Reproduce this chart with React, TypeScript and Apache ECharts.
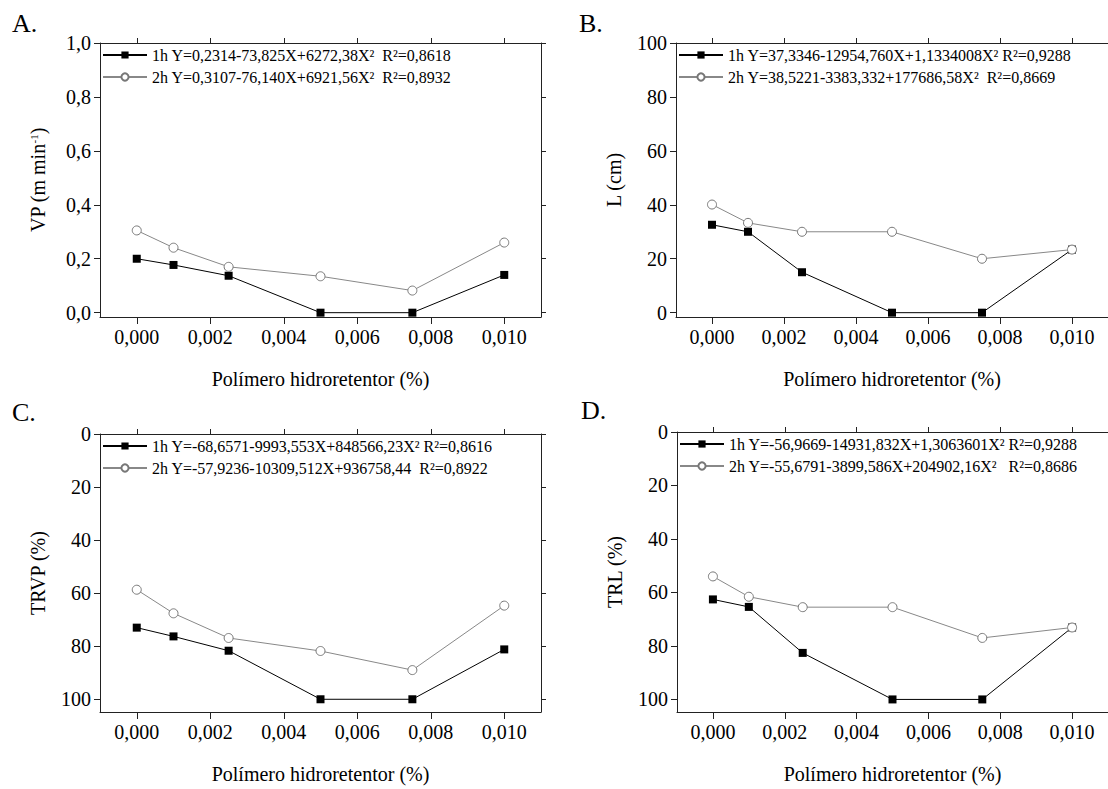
import React, { useEffect, useRef } from "react";
import * as echarts from "echarts";

const FONT = "Liberation Serif";

// x values: polymer concentration (%)
const xValues = [0, 0.001, 0.0025, 0.005, 0.0075, 0.01];
const xTicks = [0, 0.002, 0.004, 0.006, 0.008, 0.01];

// A: VP (m min-1)
const vp1h = [0.2, 0.177, 0.137, 0, 0, 0.14];
const vp2h = [0.305, 0.241, 0.17, 0.135, 0.082, 0.26];
const vpTicks = [0, 0.2, 0.4, 0.6, 0.8, 1.0];

// B: L (cm)
const l1h = [32.6, 30, 15, 0, 0, 23.4];
const l2h = [40.1, 33.3, 30, 30, 20, 23.4];
const lTicks = [0, 20, 40, 60, 80, 100];

// C: TRVP (%)
const trvp1h = [73, 76.3, 81.7, 100, 100, 81.2];
const trvp2h = [58.7, 67.6, 76.9, 81.8, 89, 64.7];

// D: TRL (%)
const trl1h = [62.6, 65.4, 82.6, 100, 100, 73.1];
const trl2h = [54, 61.6, 65.5, 65.5, 77, 73.1];
const trTicks = [0, 20, 40, 60, 80, 100];

const legendA = [
  "1h Y=0,2314-73,825X+6272,38X²  R²=0,8618",
  "2h Y=0,3107-76,140X+6921,56X²  R²=0,8932",
];
const legendB = [
  "1h Y=37,3346-12954,760X+1,1334008X² R²=0,9288",
  "2h Y=38,5221-3383,332+177686,58X²  R²=0,8669",
];
const legendC = [
  "1h Y=-68,6571-9993,553X+848566,23X² R²=0,8616",
  "2h Y=-57,9236-10309,512X+936758,44  R²=0,8922",
];
const legendD = [
  "1h Y=-56,9669-14931,832X+1,3063601X² R²=0,9288",
  "2h Y=-55,6791-3899,586X+204902,16X²   R²=0,8686",
];

const xTitle = "Polímero hidroretentor (%)";

function pairs(ys: number[]) {
  return xValues.map((x, i) => [x, ys[i]]);
}

type PanelCfg = {
  box: { left: number; top: number; width: number; height: number };
  grid: { left: number; top: number; width: number; height: number };
  letter: string;
  letterPos: { x: number; y: number };
  legendPos: { x: number; y: number };
  names: string[];
  s1: number[];
  s2: number[];
  yMin: number;
  yMax: number;
  inverse: boolean;
  yTicks: number[];
  dec: number;
  yName: string;
};

const panels: PanelCfg[] = [
  {
    box: { left: 0, top: 0, width: 554, height: 394 },
    grid: { left: 100, top: 43, width: 441, height: 283 },
    letter: "A.", letterPos: { x: 12, y: 10 }, legendPos: { x: 102, y: 47 },
    names: legendA, s1: vp1h, s2: vp2h, yMin: -0.016, yMax: 1.0, inverse: false,
    yTicks: vpTicks, dec: 1, yName: "{a|VP (m min}{s|-1}{a|)}",
  },
  {
    box: { left: 554, top: 0, width: 554, height: 394 },
    grid: { left: 122, top: 43, width: 440, height: 284 },
    letter: "B.", letterPos: { x: 25, y: 10 }, legendPos: { x: 124, y: 47 },
    names: legendB, s1: l1h, s2: l2h, yMin: -1.6, yMax: 100, inverse: false,
    yTicks: lTicks, dec: 0, yName: "{a|L (cm)}",
  },
  {
    box: { left: 0, top: 394, width: 554, height: 395 },
    grid: { left: 100, top: 40, width: 441, height: 284 },
    letter: "C.", letterPos: { x: 12, y: 5 }, legendPos: { x: 102, y: 44 },
    names: legendC, s1: trvp1h, s2: trvp2h, yMin: 0, yMax: 104.8, inverse: true,
    yTicks: trTicks, dec: 0, yName: "{a|TRVP (%)}",
  },
  {
    box: { left: 554, top: 394, width: 554, height: 395 },
    grid: { left: 123, top: 38, width: 440, height: 285 },
    letter: "D.", letterPos: { x: 27, y: 3 }, legendPos: { x: 125, y: 42 },
    names: legendD, s1: trl1h, s2: trl2h, yMin: 0, yMax: 104.7, inverse: true,
    yTicks: trTicks, dec: 0, yName: "{a|TRL (%)}",
  },
];

function Panel({ cfg }: { cfg: PanelCfg }) {
  const ref = useRef<HTMLDivElement>(null);

  useEffect(() => {
    if (!ref.current) return;
    const chart = echarts.init(ref.current, null, { renderer: "svg" });
    const axisLineStyle = { color: "#222", width: 1 };
    const labelStyle = { fontFamily: FONT, fontSize: 20, color: "#000" };

    chart.setOption({
      animation: false,
      title: {
        text: cfg.letter,
        left: cfg.letterPos.x,
        top: cfg.letterPos.y,
        padding: 0,
        textStyle: { fontFamily: FONT, fontSize: 26, fontWeight: "normal", color: "#000" },
      },
      legend: {
        data: cfg.names,
        orient: "vertical",
        left: cfg.legendPos.x,
        top: cfg.legendPos.y,
        itemWidth: 44,
        itemHeight: 9,
        itemGap: 6,
        padding: 0,
        selectedMode: false,
        textStyle: { fontFamily: FONT, fontSize: 16, color: "#000" },
      },
      grid: [cfg.grid],
      xAxis: [
        {
          type: "value",
          gridIndex: 0,
          min: -0.001,
          max: 0.011,
          name: xTitle,
          nameLocation: "middle",
          nameGap: 52,
          nameTextStyle: { ...labelStyle },
          axisLine: { show: true, onZero: false, lineStyle: axisLineStyle },
          axisTick: { show: true, length: 7, customValues: xTicks, lineStyle: axisLineStyle },
          axisLabel: {
            customValues: xTicks,
            ...labelStyle,
            margin: 10,
            formatter: (v: number) => v.toFixed(3).replace(".", ","),
          },
          splitLine: { show: false },
        },
        {
          type: "value",
          gridIndex: 0,
          position: "top",
          min: -0.001,
          max: 0.011,
          axisLine: { show: true, onZero: false, lineStyle: axisLineStyle },
          axisTick: { show: true, length: 5, customValues: xTicks, lineStyle: axisLineStyle },
          axisLabel: { show: false },
          splitLine: { show: false },
        },
      ],
      yAxis: [
        {
          type: "value",
          gridIndex: 0,
          min: cfg.yMin,
          max: cfg.yMax,
          inverse: cfg.inverse,
          name: cfg.yName,
          nameLocation: "middle",
          nameGap: 52,
          nameTextStyle: {
            rich: {
              a: { fontFamily: FONT, fontSize: 20, color: "#000" },
              s: { fontFamily: FONT, fontSize: 11, color: "#000", verticalAlign: "top" },
            },
          },
          axisLine: { show: true, onZero: false, lineStyle: axisLineStyle },
          axisTick: { show: true, length: 6, customValues: cfg.yTicks, lineStyle: axisLineStyle },
          axisLabel: {
            customValues: cfg.yTicks,
            ...labelStyle,
            margin: 9,
            formatter: (v: number) => v.toFixed(cfg.dec).replace(".", ","),
          },
          splitLine: { show: false },
        },
        {
          type: "value",
          gridIndex: 0,
          position: "right",
          min: cfg.yMin,
          max: cfg.yMax,
          inverse: cfg.inverse,
          axisLine: { show: true, onZero: false, lineStyle: axisLineStyle },
          axisTick: { show: true, length: 5, customValues: cfg.yTicks, lineStyle: axisLineStyle },
          axisLabel: { show: false },
          splitLine: { show: false },
        },
      ],
      series: [
        {
          type: "line",
          name: cfg.names[0],
          xAxisIndex: 0,
          yAxisIndex: 0,
          data: pairs(cfg.s1),
          symbol: "rect",
          symbolSize: 8,
          itemStyle: { color: "#000" },
          lineStyle: { color: "#000", width: 1 },
          z: 2,
        },
        {
          type: "line",
          name: cfg.names[1],
          xAxisIndex: 0,
          yAxisIndex: 0,
          data: pairs(cfg.s2),
          symbol: "circle",
          symbolSize: 9,
          showAllSymbol: true,
          itemStyle: { color: "#fff", borderColor: "#777", borderWidth: 1 },
          lineStyle: { color: "#888", width: 1 },
          z: 3,
        },
      ],
    });

    return () => chart.dispose();
  }, [cfg]);

  return (
    <div
      ref={ref}
      style={{
        position: "absolute",
        left: cfg.box.left,
        top: cfg.box.top,
        width: cfg.box.width,
        height: cfg.box.height,
      }}
    />
  );
}

export default function App() {
  return (
    <div style={{ position: "absolute", left: 0, top: 0, width: 1108, height: 789, background: "#fff", overflow: "hidden" }}>
      <style>{`svg text, svg tspan { font-family: "Liberation Serif", serif !important; }`}</style>
      {panels.map((p) => (
        <Panel key={p.letter} cfg={p} />
      ))}
    </div>
  );
}
